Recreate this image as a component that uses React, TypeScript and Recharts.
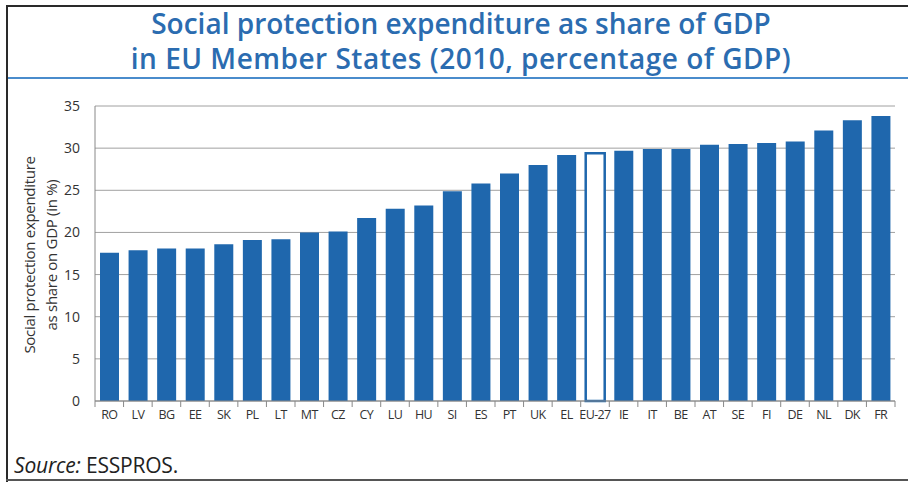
import { Bar, BarChart, CartesianGrid, Cell, XAxis, YAxis } from "recharts";

const countries = [
  "RO", "LV", "BG", "EE", "SK", "PL", "LT", "MT", "CZ", "CY", "LU", "HU", "SI", "ES",
  "PT", "UK", "EL", "EU-27", "IE", "IT", "BE", "AT", "SE", "FI", "DE", "NL", "DK", "FR",
];
const shares = [
  17.6, 17.9, 18.1, 18.1, 18.6, 19.1, 19.2, 20.0, 20.1, 21.7, 22.8, 23.2, 24.9, 25.8,
  27.0, 28.0, 29.2, 29.4, 29.7, 29.9, 29.9, 30.4, 30.5, 30.6, 30.8, 32.1, 33.3, 33.8,
];
const yTicks = [0, 5, 10, 15, 20, 25, 30, 35];

const data = countries.map((c, i) => ({ country: c, share: shares[i] }));

const BLUE = "#1f67ad";
const W = 908;
const H = 482;
const PLOT_LEFT = 95;
const PLOT_RIGHT = 895;
const PLOT_BOTTOM = 401;
const STEP = (PLOT_RIGHT - PLOT_LEFT) / countries.length;

function CountryTick(props: any) {
  const { x, y, payload, index } = props;
  const left = x - STEP / 2;
  const right = x + STEP / 2;
  return (
    <g>
      <line x1={left} y1={y} x2={left} y2={y + 6} stroke="#888" strokeWidth={1} />
      {index === countries.length - 1 && (
        <line x1={right} y1={y} x2={right} y2={y + 6} stroke="#888" strokeWidth={1} />
      )}
      <text
        x={x}
        y={y + 18}
        textAnchor="middle"
        fontSize={12.5}
        fill="#333"
        fontFamily="Open Sans"
        letterSpacing={-0.6}
      >
        {payload.value}
      </text>
    </g>
  );
}

const titleLine = {
  position: "absolute" as const,
  left: 0,
  width: 922,
  textAlign: "center" as const,
  color: "#2b6cb0",
  fontSize: 28,
  fontWeight: 600,
  lineHeight: "30px",
  height: 30,
};

export default function App() {
  return (
    <div
      style={{
        position: "fixed",
        left: 0,
        top: 0,
        width: W,
        height: H,
        background: "#fff",
        fontFamily: "Open Sans",
        overflow: "hidden",
      }}
    >
      {/* frame */}
      <div style={{ position: "absolute", left: 6, top: 5, width: W - 6, height: 2, background: "#2a2a2a" }} />
      <div style={{ position: "absolute", left: 6, top: 5, width: 2, height: H - 5, background: "#2a2a2a" }} />
      <div style={{ position: "absolute", left: 6, top: 479, width: W - 6, height: 2, background: "#555" }} />
      <div style={{ position: "absolute", left: 8, top: 77, width: W - 8, height: 2, background: "#4a8ccc" }} />

      <div style={{ ...titleLine, top: 8, letterSpacing: 0 }}>
        Social protection expenditure as share of GDP
      </div>
      <div style={{ ...titleLine, top: 43, letterSpacing: 0.5 }}>
        in EU Member States (2010, percentage of GDP)
      </div>

      <div
        style={{
          position: "absolute",
          left: 41 - 150,
          top: 255 - 23,
          width: 300,
          height: 46,
          transform: "rotate(-90deg)",
          textAlign: "center",
          fontSize: 15,
          lineHeight: "22px",
          color: "#333",
          letterSpacing: -0.3,
        }}
      >
        Social protection expenditure
        <br />
        as share on GDP (in %)
      </div>

      <div style={{ position: "absolute", left: 14, top: 451, fontSize: 21, color: "#222", letterSpacing: -0.2 }}>
        <i>Source:</i> ESSPROS.
      </div>

      <div style={{ position: "absolute", left: 0, top: 0 }}>
        <BarChart
          width={W}
          height={H}
          data={data}
          margin={{ top: 106, right: W - PLOT_RIGHT, bottom: 0, left: PLOT_LEFT - 60 }}
          barSize={19}
        >
          <CartesianGrid vertical={false} stroke="#a0a0a0" strokeWidth={1} />
          <XAxis
            dataKey="country"
            interval={0}
            tickLine={false}
            tickSize={0}
            tickMargin={0}
            stroke="#888"
            tick={<CountryTick />}
            height={H - PLOT_BOTTOM}
          />
          <YAxis
            width={60}
            domain={[0, 35]}
            ticks={yTicks}
            tickLine={false}
            tickSize={6}
            tickMargin={9}
            stroke="#888"
            tick={{ fontSize: 14, fill: "#333", fontFamily: "Open Sans" }}
          />
          <Bar dataKey="share" isAnimationActive={false}>
            {data.map((d) => (
              <Cell
                key={d.country}
                fill={d.country === "EU-27" ? "#fff" : BLUE}
                stroke={BLUE}
                strokeWidth={d.country === "EU-27" ? 2.5 : 0}
              />
            ))}
          </Bar>
        </BarChart>
      </div>
    </div>
  );
}
